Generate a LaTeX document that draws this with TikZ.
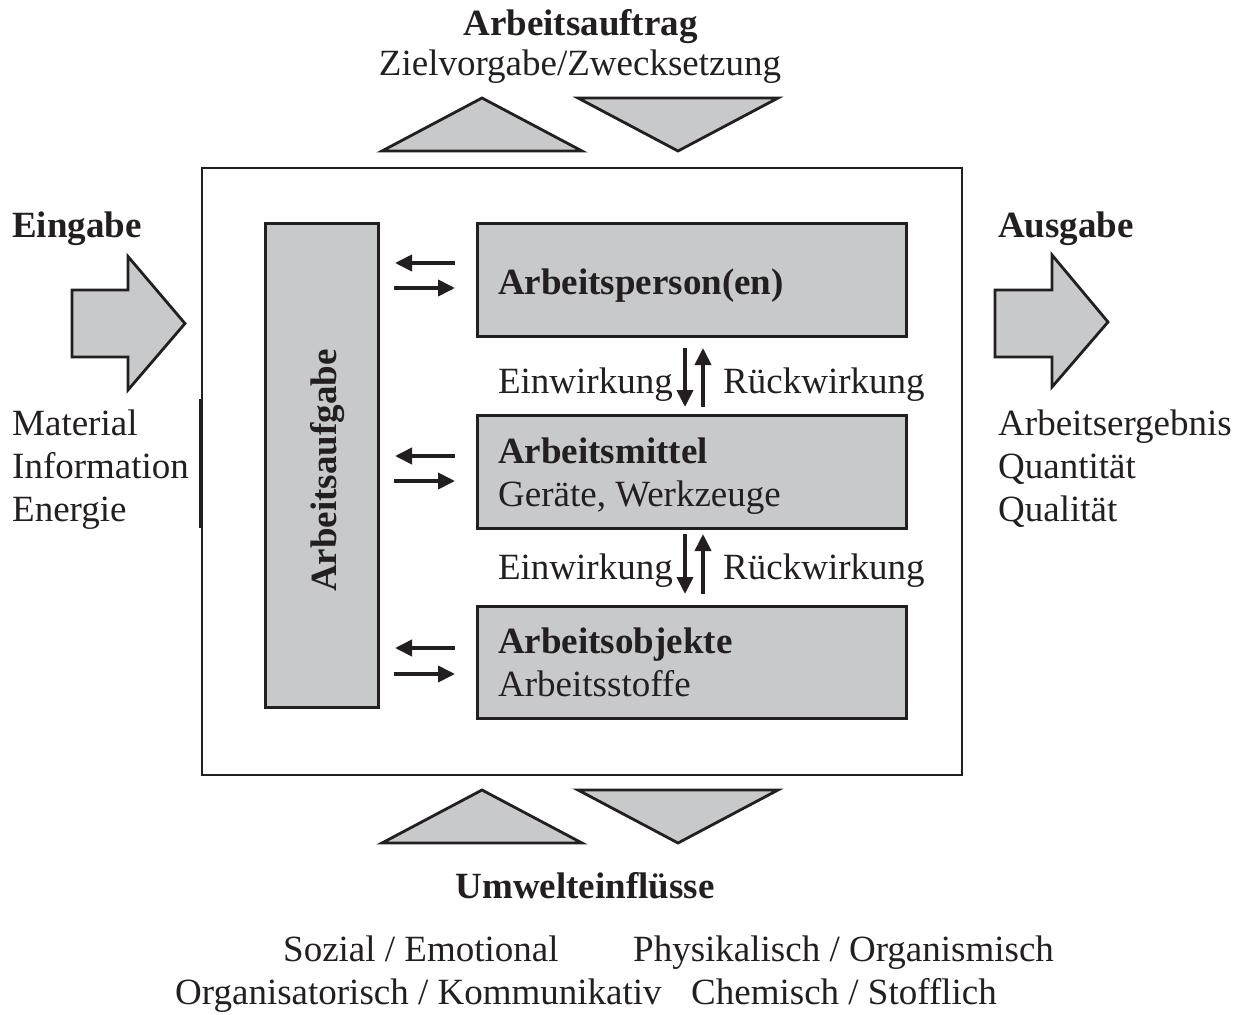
\documentclass[tikz,border=0pt]{standalone}
\usepackage{fontspec}
\setmainfont{Liberation Serif}
\usetikzlibrary{arrows.meta}
\definecolor{ink}{HTML}{231F20}
\definecolor{panel}{HTML}{C8C9CB}

\begin{document}
\begin{tikzpicture}[x=1pt,y={(0pt,-1pt)},
  txt/.style={inner sep=0pt, text=ink, font=\fontsize{37}{43}\selectfont},
  hd/.style={inner sep=0pt, text=ink, font=\fontsize{37}{43}\selectfont\bfseries},
  panelbox/.style={draw=ink, fill=panel, line width=2.8pt, inner sep=0pt, anchor=north west},
  shapefill/.style={draw=ink, fill=panel, line width=2.8pt, line join=miter},
  link/.style={draw=ink, line width=3.8pt, -{Triangle[length=17pt,width=16pt]}},
]
\useasboundingbox (0,0) rectangle (1244,1014);

% system frame
\node[draw=ink, line width=2.2pt, inner sep=0pt, anchor=north west,
      minimum width=760pt, minimum height=607pt] (frame) at (201,167) {};
\coordinate (edgeA) at (200.5,399);
\coordinate (edgeB) at (200.5,528);
\draw[ink, line width=4pt] (edgeA) -- (edgeB);

% inner panels
\node[panelbox, minimum width=113pt, minimum height=484pt] (task) at (264,222) {};
\node[panelbox, minimum width=429pt, minimum height=113pt] (person) at (476,222) {};
\node[panelbox, minimum width=429pt, minimum height=113pt] (means) at (476,414) {};
\node[panelbox, minimum width=429pt, minimum height=112pt] (objects) at (476,605) {};

\node[hd, rotate=90, anchor=base] (tasklbl) at (336,470.5) {Arbeitsaufgabe};
\node[hd, anchor=base west] (personlbl) at (498,294) {Arbeitsperson(en)};
\node[hd, anchor=base west] (meanslbl) at (498,463) {Arbeitsmittel};
\node[txt, anchor=base west] (meanssub) at (498,506) {Geräte, Werkzeuge};
\node[hd, anchor=base west] (objlbl) at (498,653) {Arbeitsobjekte};
\node[txt, anchor=base west] (objsub) at (498,696) {Arbeitsstoffe};

% exchange arrows between task and panels
\coordinate (a1r) at (455,263); \coordinate (a1l) at (395,263);
\coordinate (b1l) at (394,288); \coordinate (b1r) at (455,288);
\coordinate (a2r) at (455,456); \coordinate (a2l) at (395,456);
\coordinate (b2l) at (394,481); \coordinate (b2r) at (455,481);
\coordinate (a3r) at (455,648); \coordinate (a3l) at (395,648);
\coordinate (b3l) at (394,674); \coordinate (b3r) at (455,674);
\draw[link] (a1r) -- (a1l);
\draw[link] (b1l) -- (b1r);
\draw[link] (a2r) -- (a2l);
\draw[link] (b2l) -- (b2r);
\draw[link] (a3r) -- (a3l);
\draw[link] (b3l) -- (b3r);

% action / reaction between panels
\coordinate (d1t) at (685,348); \coordinate (d1b) at (685,407);
\coordinate (u1b) at (703,407); \coordinate (u1t) at (703,348);
\coordinate (d2t) at (685,534); \coordinate (d2b) at (685,594);
\coordinate (u2b) at (703,594); \coordinate (u2t) at (703,534);
\draw[link] (d1t) -- (d1b);
\draw[link] (u1b) -- (u1t);
\draw[link] (d2t) -- (d2b);
\draw[link] (u2b) -- (u2t);
\node[txt, anchor=base east] (ein1) at (673,393) {Einwirkung};
\node[txt, anchor=base west] (rueck1) at (723,393) {Rückwirkung};
\node[txt, anchor=base east] (ein2) at (673,579) {Einwirkung};
\node[txt, anchor=base west] (rueck2) at (723,579) {Rückwirkung};

% work order
\node[hd, anchor=base] (orderlbl) at (580.5,36) {Arbeitsauftrag};
\node[txt, anchor=base] (ordersub) at (580,76) {Zielvorgabe/Zwecksetzung};
\draw[shapefill] (382,151) -- (482,98) -- (582,151) -- cycle;
\draw[shapefill] (578,98) -- (778,98) -- (678,151) -- cycle;

% input
\node[hd, anchor=base west] (inlbl) at (12,237) {Eingabe};
\draw[shapefill] (72,290) -- (128,290) -- (128,256.5) -- (185,323.5) -- (128,390)
  -- (128,357) -- (72,357) -- cycle;
\node[txt, anchor=base west] (in1) at (12,435) {Material};
\node[txt, anchor=base west] (in2) at (12,478) {Information};
\node[txt, anchor=base west] (in3) at (12,521) {Energie};

% output
\node[hd, anchor=base west] (outlbl) at (998,237) {Ausgabe};
\draw[shapefill] (995,290) -- (1052,290) -- (1052,255) -- (1108,322) -- (1052,387)
  -- (1052,357) -- (995,357) -- cycle;
\node[txt, anchor=base west] (out1) at (998,435) {Arbeitsergebnis};
\node[txt, anchor=base west] (out2) at (998,478) {Quantität};
\node[txt, anchor=base west] (out3) at (998,521) {Qualität};

% environment
\draw[shapefill] (382,843) -- (482,790) -- (582,843) -- cycle;
\draw[shapefill] (578,790) -- (778,790) -- (678,843) -- cycle;
\node[hd, anchor=base] (envlbl) at (585,898) {Umwelteinflüsse};
\node[txt, anchor=base west] (env1) at (283,961) {Sozial / Emotional};
\node[txt, anchor=base west] (env2) at (633,961) {Physikalisch / Organismisch};
\node[txt, anchor=base west] (env3) at (175,1004) {Organisatorisch / Kommunikativ};
\node[txt, anchor=base west] (env4) at (691,1004) {Chemisch / Stofflich};
\end{tikzpicture}
\end{document}
